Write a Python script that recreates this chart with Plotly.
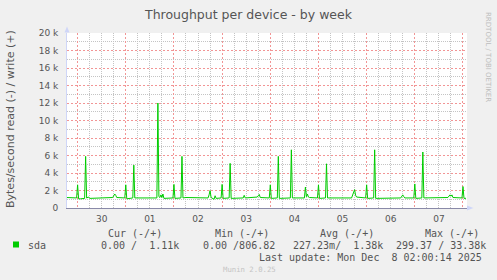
import plotly.graph_objects as go

# ---------------- data ----------------
times = [
    "2025-11-29 18:30", "2025-11-29 21:00", "2025-11-29 23:30",
    "2025-11-30 00:00", "2025-11-30 00:30", "2025-11-30 01:30", "2025-11-30 03:30",
    "2025-11-30 04:00", "2025-11-30 04:30", "2025-11-30 05:30", "2025-11-30 06:00",
    "2025-11-30 17:30", "2025-11-30 18:00", "2025-11-30 18:30", "2025-11-30 19:00",
    "2025-11-30 19:30", "2025-11-30 23:30",
    "2025-12-01 00:00", "2025-12-01 00:30", "2025-12-01 01:30", "2025-12-01 03:30",
    "2025-12-01 04:00", "2025-12-01 04:30", "2025-12-01 15:30", "2025-12-01 16:00",
    "2025-12-01 16:30", "2025-12-01 17:00", "2025-12-01 17:30", "2025-12-01 18:00",
    "2025-12-01 18:30", "2025-12-01 19:00", "2025-12-01 23:30",
    "2025-12-02 00:00", "2025-12-02 00:30", "2025-12-02 03:30", "2025-12-02 04:00",
    "2025-12-02 04:30", "2025-12-02 06:00", "2025-12-02 17:00", "2025-12-02 17:30",
    "2025-12-02 18:00", "2025-12-02 18:30", "2025-12-02 19:30", "2025-12-02 20:00",
    "2025-12-02 20:30", "2025-12-02 21:00", "2025-12-02 23:30",
    "2025-12-03 00:00", "2025-12-03 00:30", "2025-12-03 03:30", "2025-12-03 04:00",
    "2025-12-03 04:30", "2025-12-03 10:30", "2025-12-03 11:00", "2025-12-03 11:30",
    "2025-12-03 17:30", "2025-12-03 18:00", "2025-12-03 18:30", "2025-12-03 19:00",
    "2025-12-03 23:30",
    "2025-12-04 00:00", "2025-12-04 00:30", "2025-12-04 03:30", "2025-12-04 04:00",
    "2025-12-04 04:30", "2025-12-04 10:00", "2025-12-04 10:30", "2025-12-04 11:00",
    "2025-12-04 17:00", "2025-12-04 17:30", "2025-12-04 18:00", "2025-12-04 18:30",
    "2025-12-04 19:00", "2025-12-04 19:30", "2025-12-04 23:30",
    "2025-12-05 00:00", "2025-12-05 00:30", "2025-12-05 03:30", "2025-12-05 04:00",
    "2025-12-05 04:30", "2025-12-05 16:30", "2025-12-05 17:00", "2025-12-05 17:30",
    "2025-12-05 18:00", "2025-12-05 18:30", "2025-12-05 19:00", "2025-12-05 23:30",
    "2025-12-06 00:00", "2025-12-06 00:30", "2025-12-06 03:30", "2025-12-06 04:00",
    "2025-12-06 04:30", "2025-12-06 17:00", "2025-12-06 17:30", "2025-12-06 18:00",
    "2025-12-06 18:30", "2025-12-06 19:00", "2025-12-06 23:30",
    "2025-12-07 00:00", "2025-12-07 00:30", "2025-12-07 03:30", "2025-12-07 04:00",
    "2025-12-07 04:30", "2025-12-07 16:30", "2025-12-07 17:00", "2025-12-07 17:30",
    "2025-12-07 18:00", "2025-12-07 18:30", "2025-12-07 19:00", "2025-12-07 23:30",
    "2025-12-08 00:00", "2025-12-08 00:30", "2025-12-08 01:30",
]
write_bps = [
    1200, 1150, 1150,
    2650, 1050, 1050, 1100,
    5900, 1150, 1250, 1100,
    1200, 1400, 1600, 1450,
    1200, 1150,
    2650, 1050, 1100, 1150,
    4900, 1150, 1150, 12000,
    1300, 1200, 1500, 1200,
    1600, 1100, 1150,
    2700, 1100, 1150, 5900,
    1150, 1200, 1150, 1500,
    2000, 1200, 1100, 1000,
    1400, 1100, 1150,
    2700, 1100, 1150, 5100,
    1100, 1150, 1450, 1150,
    1250, 1400, 1550, 1200,
    1150,
    2650, 1100, 1150, 5900,
    1100, 1150, 6650, 1150,
    1150, 2400, 1300, 1600,
    1250, 1200, 1150,
    2650, 1100, 1150, 5050,
    1150, 1150, 1400, 1800,
    2100, 1450, 1250, 1150,
    2650, 1100, 1150, 6650,
    1100, 1150, 1400, 1500,
    1300, 1150, 1150,
    2750, 1100, 1150, 6400,
    1150, 1200, 1400, 1500,
    1350, 1500, 1200, 1150,
    2450, 1100, 1110,
]

y_tick_vals = [0, 2000, 4000, 6000, 8000, 10000, 12000, 14000, 16000, 18000, 20000]
y_tick_text = ["0", "2 k", "4 k", "6 k", "8 k", "10 k", "12 k", "14 k", "16 k", "18 k", "20 k"]

legend_headers = ["Cur (-/+)", "Min (-/+)", "Avg (-/+)", "Max (-/+)"]
legend_values = ["0.00 /\u00a0\u00a01.11k", "0.00 /806.82", "227.23m/\u00a0\u00a01.38k", "299.37 / 33.38k"]
series_name = "sda"
last_update = "Last update: Mon Dec\u00a0\u00a08 02:00:14 2025"

# ---------------- layout geometry (pixels) ----------------
W, H = 497, 280
L, R, T, B = 67, 30, 33, 72
PW, PH = W - L - R, H - T - B


def px(x):
    return (x - L) / PW


def py(y):
    return (H - B - y) / PH


TXT = "#555555"
SANS = "DejaVu Sans"
MONO = "DejaVu Sans Mono"
MAJOR_GRID = "#F29595"
MINOR_GRID = "#C4C4C4"
MAJOR_DASH = "2px,2px"
MINOR_DASH = "1px,1px"

# map plotly's SI labels ("2k") to the munin style ("2 k")
y_alias = {("0" if v == 0 else f"{v // 1000}k"): t for v, t in zip(y_tick_vals, y_tick_text)}
y_step = y_tick_vals[1] - y_tick_vals[0]

fig = go.Figure()
fig.add_trace(go.Scatter(
    x=times, y=write_bps, mode="lines",
    line=dict(color="#00CC00", width=1),
    hoverinfo="skip", showlegend=False,
))

fig.update_layout(
    width=W, height=H,
    margin=dict(l=L, r=R, t=T, b=B),
    paper_bgcolor="#F0F0F0",
    plot_bgcolor="#FFFFFF",
    font=dict(family=SANS, size=9, color=TXT),
    showlegend=False,
)

fig.update_xaxes(
    type="date",
    range=["2025-11-29 18:43", "2025-12-08 02:00"],
    dtick=86400000, tick0="2025-11-30 00:00",
    ticklabelmode="period", tickformat="%d",
    ticks="", ticklabelstandoff=2,
    showgrid=True, gridcolor=MAJOR_GRID, griddash=MAJOR_DASH, gridwidth=1,
    minor=dict(dtick=6 * 3600000, tick0="2025-11-30 00:00", showgrid=True,
               gridcolor=MINOR_GRID, griddash=MINOR_DASH, gridwidth=1),
    showline=True, linecolor="#8A8AA8", linewidth=1,
    zeroline=False, fixedrange=True,
    tickfont=dict(family=SANS, size=9, color=TXT),
)

fig.update_yaxes(
    range=[y_tick_vals[0], y_tick_vals[-1]],
    tickmode="linear", tick0=0, dtick=y_step,
    tickformat="~s", labelalias=y_alias,
    ticks="", ticklabelstandoff=6,
    showgrid=True, gridcolor=MAJOR_GRID, griddash=MAJOR_DASH, gridwidth=1,
    minor=dict(tick0=y_step / 2, dtick=y_step, showgrid=True,
               gridcolor=MINOR_GRID, griddash=MINOR_DASH, gridwidth=1),
    showline=True, linecolor="#CFD6F8", linewidth=1,
    zeroline=False, fixedrange=True,
    tickfont=dict(family=SANS, size=9, color=TXT),
)

ann = []
# title
ann.append(dict(text="Throughput per device - by week", x=px(248.5), y=py(14),
                xanchor="center", yanchor="middle",
                font=dict(family=SANS, size=12.5, color=TXT)))
# y-axis title
ann.append(dict(text="Bytes/second read (-) / write (+)", x=px(10), y=py(119),
                xanchor="center", yanchor="middle", textangle=-90,
                font=dict(family=SANS, size=11, color=TXT)))
# rrdtool credit
ann.append(dict(text="RRDTOOL / TOBI OETIKER", x=px(488), y=py(57),
                xanchor="center", yanchor="middle", textangle=90,
                font=dict(family=SANS, size=7, color="#BDBDBD")))
# legend headers
for txt, x0 in zip(legend_headers, [107, 214, 319, 424]):
    ann.append(dict(text=txt, x=px(x0), y=py(233.5), xanchor="left", yanchor="middle",
                    font=dict(family=MONO, size=10, color=TXT)))
# legend row
ann.append(dict(text=series_name, x=px(27), y=py(245), xanchor="left", yanchor="middle",
                font=dict(family=MONO, size=10, color=TXT)))
for txt, x0 in zip(legend_values, [100, 202, 292, 395]):
    ann.append(dict(text=txt, x=px(x0), y=py(245), xanchor="left", yanchor="middle",
                    font=dict(family=MONO, size=10, color=TXT)))
ann.append(dict(text=last_update, x=px(483), y=py(257.5), xanchor="right", yanchor="middle",
                font=dict(family=MONO, size=10, color=TXT)))
ann.append(dict(text="Munin 2.0.25", x=px(249), y=py(269), xanchor="center", yanchor="middle",
                font=dict(family=MONO, size=7.3, color="#C4C4C4")))
for a in ann:
    a.update(xref="paper", yref="paper", showarrow=False, borderpad=0)
fig.update_layout(annotations=ann)

# arrows and legend swatch
shapes = [
    dict(type="path", xref="paper", yref="paper",
         path=f"M {px(64.5)} {py(32.5)} L {px(69.5)} {py(32.5)} L {px(67)} {py(26.5)} Z",
         fillcolor="#CFD6F8", line=dict(width=0)),
    dict(type="path", xref="paper", yref="paper",
         path=f"M {px(467)} {py(205.5)} L {px(467)} {py(210.5)} L {px(473.5)} {py(208)} Z",
         fillcolor="#CFD6F8", line=dict(width=0)),
    dict(type="rect", xref="paper", yref="paper",
         x0=px(13), x1=px(19), y0=py(247.5), y1=py(241.5),
         fillcolor="#00CC00", line=dict(width=0)),
]
fig.update_layout(shapes=shapes)

fig.write_html("out.html")
